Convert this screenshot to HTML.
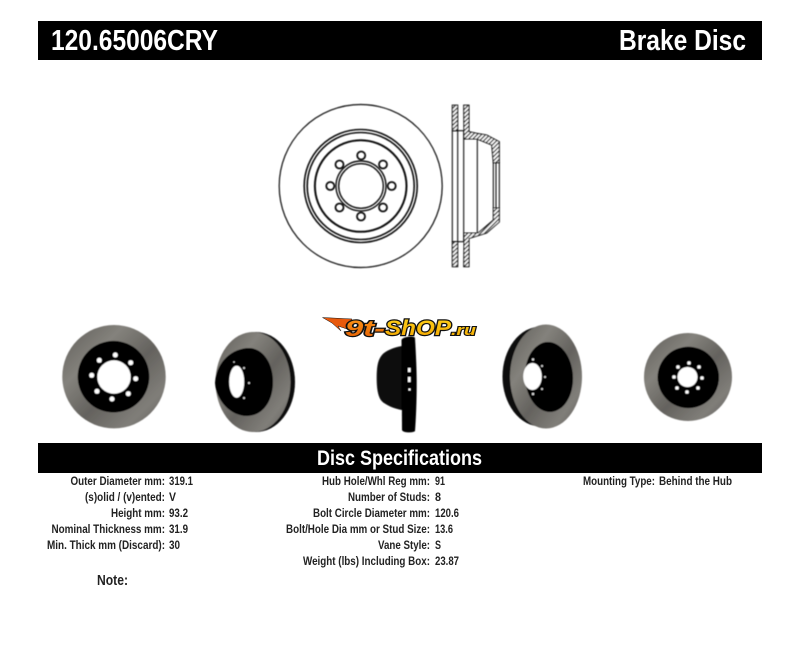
<!DOCTYPE html>
<html><head><meta charset="utf-8"><style>
html,body{margin:0;padding:0;background:#fff}
svg{display:block}
text{font-family:"Liberation Sans",sans-serif;font-weight:bold;fill:#222}
.l{text-anchor:end;font-size:12px}
.v{font-size:12px}
</style></head><body>
<svg width="800" height="655" viewBox="0 0 800 655" xmlns="http://www.w3.org/2000/svg">
<defs>
<pattern id="h" width="3" height="3" patternUnits="userSpaceOnUse" patternTransform="rotate(45)"><rect width="3" height="3" fill="#fff"/><rect width="1.2" height="3" fill="#222"/></pattern>
<linearGradient id="g" x1="0" y1="0" x2="1" y2="1"><stop offset="0" stop-color="#5e5c58"/><stop offset=".3" stop-color="#84827c"/><stop offset=".55" stop-color="#64625e"/><stop offset=".8" stop-color="#807e79"/><stop offset="1" stop-color="#5c5a57"/></linearGradient>
<filter id="b" x="-10%" y="-10%" width="120%" height="120%"><feGaussianBlur stdDeviation=".45"/></filter>
<linearGradient id="lg" x1="0" y1="0" x2="0" y2="1"><stop offset="0" stop-color="#ffd21a"/><stop offset="1" stop-color="#f2a400"/></linearGradient>
<linearGradient id="lo" x1="0" y1="0" x2="0" y2="1"><stop offset="0" stop-color="#ff9a1a"/><stop offset="1" stop-color="#e25a00"/></linearGradient>
</defs>
<rect width="800" height="655" fill="#fff"/>
<rect x="38" y="21" width="724" height="39" fill="#000"/>
<rect x="38" y="443" width="724" height="30" fill="#000"/>
<text x="51" y="50" font-size="29" style="fill:#fff" textLength="167" lengthAdjust="spacingAndGlyphs">120.65006CRY</text>
<text x="619" y="50" font-size="29" style="fill:#fff" textLength="127" lengthAdjust="spacingAndGlyphs">Brake Disc</text>
<text x="317" y="465" font-size="21" style="fill:#fff" textLength="165" lengthAdjust="spacingAndGlyphs">Disc Specifications</text>

<!-- drawing front -->
<g fill="none" stroke="#111" filter="url(#b)">
<circle cx="360.7" cy="186" r="81.5" stroke-width="1.2"/>
<circle cx="360.7" cy="186" r="56.5" stroke-width="1.6"/>
<circle cx="360.7" cy="186" r="53.5" stroke-width="1.6"/>
<circle cx="360.7" cy="186" r="45.8" stroke-width="2"/>
<circle cx="361" cy="186" r="25" stroke-width="1.4"/>
<circle cx="361" cy="186" r="22.3" stroke-width="1.4"/>
<circle cx="361.2" cy="155.5" r="4" stroke-width="1.8"/>
<circle cx="383" cy="164.5" r="4" stroke-width="1.8"/>
<circle cx="391.7" cy="186" r="4" stroke-width="1.8"/>
<circle cx="383" cy="207.5" r="4" stroke-width="1.8"/>
<circle cx="361" cy="216.5" r="4" stroke-width="1.8"/>
<circle cx="339.5" cy="207.5" r="4" stroke-width="1.8"/>
<circle cx="330.3" cy="186" r="4" stroke-width="1.8"/>
<circle cx="339.5" cy="164.5" r="4" stroke-width="1.8"/>
</g>
<!-- drawing section -->
<g stroke="#111" stroke-width="1.1" filter="url(#b)">
<path fill="url(#h)" d="M452.3 105.2H457.7V130.7H452.3Z"/>
<path fill="url(#h)" d="M452.3 241.7H457.7V266.7H452.3Z"/>
<path fill="url(#h)" d="M463.7 105.2H469V131.7L476.7 133.3L486.7 135L499.3 141.7V162.7H493.3L491.7 145L477 139H464Z"/>
<path fill="url(#h)" d="M463.7 266.7H469V238.5L486.7 233L499.3 222V208H493.3V220L478 233H464V241.7Z"/>
<path fill="none" d="M452.3 130.7V241.7M457.7 130.7V241.7M463.7 130.7V241.7M452.3 130.7H463.7M452.3 241.7H463.7M477.3 139V233M493.3 162V208M496 162V208M499.3 162V208"/>
</g>

<!-- photo 1 -->
<g filter="url(#b)">
<circle cx="114" cy="376.7" r="51.7" fill="url(#g)"/>
<circle cx="113.5" cy="376.7" r="35.8" fill="#050505"/>
<circle cx="114" cy="377" r="16.7" fill="#fff"/>
<g fill="#fff"><circle cx="115.3" cy="355" r="2.5"/><circle cx="130.7" cy="362.7" r="2.5"/><circle cx="135.7" cy="378.7" r="2.5"/><circle cx="128.3" cy="393.7" r="2.5"/><circle cx="112" cy="399" r="2.5"/><circle cx="97" cy="391.3" r="2.5"/><circle cx="91.7" cy="375.3" r="2.5"/><circle cx="99.3" cy="360.3" r="2.5"/></g>
</g>
<!-- photo 2 -->
<g filter="url(#b)">
<ellipse cx="256" cy="382" rx="39" ry="50" fill="#0a0a0a"/>
<ellipse cx="253" cy="382" rx="37.5" ry="50" fill="url(#g)"/>
<path d="M215 383C216 365 228 350 247 348C262 347 273 362 273 382C273 402 262 416 247 416C230 416 216 400 215 383Z" fill="#050505"/>
<ellipse cx="236.7" cy="381.7" rx="7.5" ry="16" fill="#fff"/>
<g fill="#ddd"><circle cx="234" cy="362" r=".8"/><circle cx="244" cy="368" r="1"/><circle cx="249" cy="383" r="1"/><circle cx="244" cy="398" r="1"/></g>
</g>
<!-- photo 3 side -->
<g filter="url(#b)">
<path d="M402 346C395 347 388 350 384 353C378 358 376.7 366 376.7 378C376.7 392 379 400 384 403C390 407 396 409 402 410Z" fill="#080808"/>
<path d="M401.5 340C402 337 414 335 415 338C416 355 416.7 370 416.7 384C416.7 400 416 418 415 431C413 433 403 433 402 430Z" fill="#030303"/>
<g fill="#fff"><rect x="408" y="368" width="2.6" height="4"/><rect x="408" y="377" width="2.6" height="5"/><rect x="408.5" y="388.5" width="2" height="2"/></g>
</g>
<!-- photo 4 -->
<g filter="url(#b)">
<ellipse cx="541" cy="376.5" rx="38.5" ry="50" fill="#0a0a0a"/>
<ellipse cx="546" cy="376.5" rx="36" ry="52" fill="url(#g)"/>
<ellipse cx="549" cy="377" rx="24" ry="35" transform="rotate(-3 549 377)" fill="#050505"/>
<ellipse cx="532.5" cy="376.5" rx="9.3" ry="13.5" fill="#fff"/>
<g fill="#ddd"><circle cx="533" cy="359.5" r="1.2"/><circle cx="542" cy="366" r="1"/><circle cx="545" cy="377" r="1"/><circle cx="542" cy="389" r="1"/><circle cx="533" cy="394" r="1.2"/></g>
</g>
<!-- photo 5 -->
<g filter="url(#b)">
<circle cx="688" cy="377" r="44" fill="url(#g)"/>
<circle cx="688.3" cy="377.4" r="30.7" fill="#050505"/>
<circle cx="687.5" cy="377" r="10" fill="#fff"/>
<g fill="#fff"><circle cx="689" cy="363" r="1.8"/><circle cx="699" cy="367" r="1.8"/><circle cx="702" cy="378" r="1.8"/><circle cx="698" cy="388" r="1.8"/><circle cx="687" cy="392" r="1.8"/><circle cx="677" cy="388" r="1.8"/><circle cx="674" cy="377" r="1.8"/><circle cx="678" cy="367" r="1.8"/></g>
</g>
<!-- logo -->
<path d="M322.5 317.5L352 319L347 329L338 326L341 331L332 323Z" fill="#e8590c" stroke="#111" stroke-width=".5"/>
<text x="345" y="336" font-size="22" font-style="italic" stroke="#111" stroke-width="2.4" paint-order="stroke" style="fill:url(#lo)" textLength="40" lengthAdjust="spacingAndGlyphs">9t-</text>
<text x="385" y="335" font-size="21" font-style="italic" stroke="#111" stroke-width="2.4" paint-order="stroke" style="fill:url(#lg)" textLength="66" lengthAdjust="spacingAndGlyphs">ShOP</text>
<text x="451" y="335" font-size="15" font-style="italic" stroke="#111" stroke-width="2" paint-order="stroke" style="fill:url(#lg)" textLength="25" lengthAdjust="spacingAndGlyphs">.ru</text>

<!-- specs -->
<text class="l" x="165" y="485" textLength="94.5" lengthAdjust="spacingAndGlyphs">Outer Diameter mm:</text><text class="v" x="169" y="485" textLength="24" lengthAdjust="spacingAndGlyphs">319.1</text>
<text class="l" x="165" y="501" textLength="80" lengthAdjust="spacingAndGlyphs">(s)olid / (v)ented:</text><text class="v" x="169" y="501" textLength="7" lengthAdjust="spacingAndGlyphs">V</text>
<text class="l" x="165" y="517" textLength="54" lengthAdjust="spacingAndGlyphs">Height mm:</text><text class="v" x="169" y="517" textLength="19" lengthAdjust="spacingAndGlyphs">93.2</text>
<text class="l" x="165" y="533" textLength="113.5" lengthAdjust="spacingAndGlyphs">Nominal Thickness mm:</text><text class="v" x="169" y="533" textLength="19" lengthAdjust="spacingAndGlyphs">31.9</text>
<text class="l" x="165" y="549" textLength="118" lengthAdjust="spacingAndGlyphs">Min. Thick mm (Discard):</text><text class="v" x="169" y="549" textLength="11" lengthAdjust="spacingAndGlyphs">30</text>
<text x="97" y="585" font-size="15" textLength="31" lengthAdjust="spacingAndGlyphs">Note:</text>
<text class="l" x="430" y="485" textLength="108" lengthAdjust="spacingAndGlyphs">Hub Hole/Whl Reg mm:</text><text class="v" x="435" y="485" textLength="10" lengthAdjust="spacingAndGlyphs">91</text>
<text class="l" x="430" y="501" textLength="82" lengthAdjust="spacingAndGlyphs">Number of Studs:</text><text class="v" x="435" y="501" textLength="6" lengthAdjust="spacingAndGlyphs">8</text>
<text class="l" x="430" y="517" textLength="117" lengthAdjust="spacingAndGlyphs">Bolt Circle Diameter mm:</text><text class="v" x="435" y="517" textLength="24" lengthAdjust="spacingAndGlyphs">120.6</text>
<text class="l" x="430" y="533" textLength="144" lengthAdjust="spacingAndGlyphs">Bolt/Hole Dia mm or Stud Size:</text><text class="v" x="435" y="533" textLength="18" lengthAdjust="spacingAndGlyphs">13.6</text>
<text class="l" x="430" y="549" textLength="52" lengthAdjust="spacingAndGlyphs">Vane Style:</text><text class="v" x="435" y="549" textLength="6" lengthAdjust="spacingAndGlyphs">S</text>
<text class="l" x="430" y="565" textLength="127" lengthAdjust="spacingAndGlyphs">Weight (lbs) Including Box:</text><text class="v" x="435" y="565" textLength="24" lengthAdjust="spacingAndGlyphs">23.87</text>
<text class="l" x="655" y="485" textLength="72" lengthAdjust="spacingAndGlyphs">Mounting Type:</text><text class="v" x="659" y="485" textLength="73" lengthAdjust="spacingAndGlyphs">Behind the Hub</text>
</svg>
</body></html>
